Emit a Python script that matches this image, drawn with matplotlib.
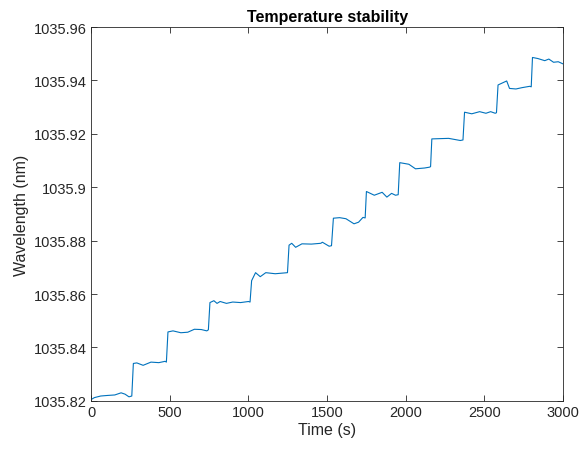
import matplotlib
matplotlib.use("Agg")
import matplotlib.pyplot as plt

# readings taken off the reference trace (time in s, wavelength in nm)
time_s = [0, 20, 60, 100, 150, 190, 215, 240, 258, 268, 290, 330, 380, 430, 470, 478,
          488, 520, 570, 614, 656, 700, 735, 745, 755, 780, 800, 820, 860, 900, 950,
          1000, 1010, 1020, 1045, 1075, 1110, 1170, 1248, 1258, 1275, 1300, 1340, 1400,
          1460, 1470, 1513, 1528, 1540, 1580, 1620, 1671, 1700, 1728, 1742, 1750, 1800,
          1850, 1880, 1910, 1935, 1952, 1962, 2020, 2062, 2120, 2150, 2158, 2166, 2273,
          2347, 2364, 2374, 2420, 2470, 2510, 2540, 2569, 2577, 2587, 2642, 2660, 2701,
          2740, 2789, 2798, 2806, 2840, 2884, 2910, 2940, 2970, 3000]
wavelength = [1035.8205, 1035.8212, 1035.8218, 1035.8220, 1035.8222, 1035.8230, 1035.8225,
              1035.8215, 1035.8218, 1035.8340, 1035.8342, 1035.8333, 1035.8345, 1035.8343,
              1035.8348, 1035.8345, 1035.8458, 1035.8462, 1035.8455, 1035.8457, 1035.8468,
              1035.8467, 1035.8462, 1035.8466, 1035.8568, 1035.8575, 1035.8565, 1035.8572,
              1035.8565, 1035.8570, 1035.8568, 1035.8572, 1035.8570, 1035.8650, 1035.8680,
              1035.8665, 1035.8680, 1035.8676, 1035.8680, 1035.8783, 1035.8790, 1035.8775,
              1035.8788, 1035.8787, 1035.8790, 1035.8794, 1035.8779, 1035.8781, 1035.8884,
              1035.8886, 1035.8882, 1035.8863, 1035.8869, 1035.8887, 1035.8885, 1035.8984,
              1035.8970, 1035.8981, 1035.8963, 1035.8977, 1035.8970, 1035.8972, 1035.9092,
              1035.9086, 1035.9069, 1035.9072, 1035.9075, 1035.9077, 1035.9181, 1035.9183,
              1035.9175, 1035.9177, 1035.9281, 1035.9275, 1035.9283, 1035.9277, 1035.9283,
              1035.9277, 1035.9279, 1035.9383, 1035.9398, 1035.9370, 1035.9368, 1035.9373,
              1035.9378, 1035.9376, 1035.9486, 1035.9482, 1035.9474, 1035.9480, 1035.9468,
              1035.9470, 1035.9462]

xticks = [0, 500, 1000, 1500, 2000, 2500, 3000]
yticks = [1035.82, 1035.84, 1035.86, 1035.88, 1035.90, 1035.92, 1035.94, 1035.96]
ytick_labels = ["1035.82", "1035.84", "1035.86", "1035.88", "1035.9", "1035.92", "1035.94", "1035.96"]

plt.rcParams['font.family'] = ['Liberation Sans', 'DejaVu Sans']
dark = '#262626'

fig = plt.figure(figsize=(5.81, 4.52), dpi=100)
ax = fig.add_axes([0.157, 0.111, 0.812, 0.827])

ax.plot(time_s, wavelength, color='#0072BD', linewidth=0.8)

ax.set_xlim(0, 3000)
ax.set_ylim(1035.82, 1035.96)
ax.set_xticks(xticks)
ax.set_yticks(yticks)
ax.set_yticklabels(ytick_labels)

ax.tick_params(direction='in', top=True, right=True, length=4, width=0.6,
               colors=dark, labelsize=10.5, pad=3)
for sp in ax.spines.values():
    sp.set_color(dark)
    sp.set_linewidth(0.6)

ax.set_xlabel("Time (s)", fontsize=11.5, color=dark, labelpad=2)
ax.set_ylabel("Wavelength (nm)", fontsize=11.5, color=dark, labelpad=4)
ax.set_title("Temperature stability", fontsize=11.5, fontweight='bold', color='black', pad=4)

fig.savefig("out.png", dpi=100)
